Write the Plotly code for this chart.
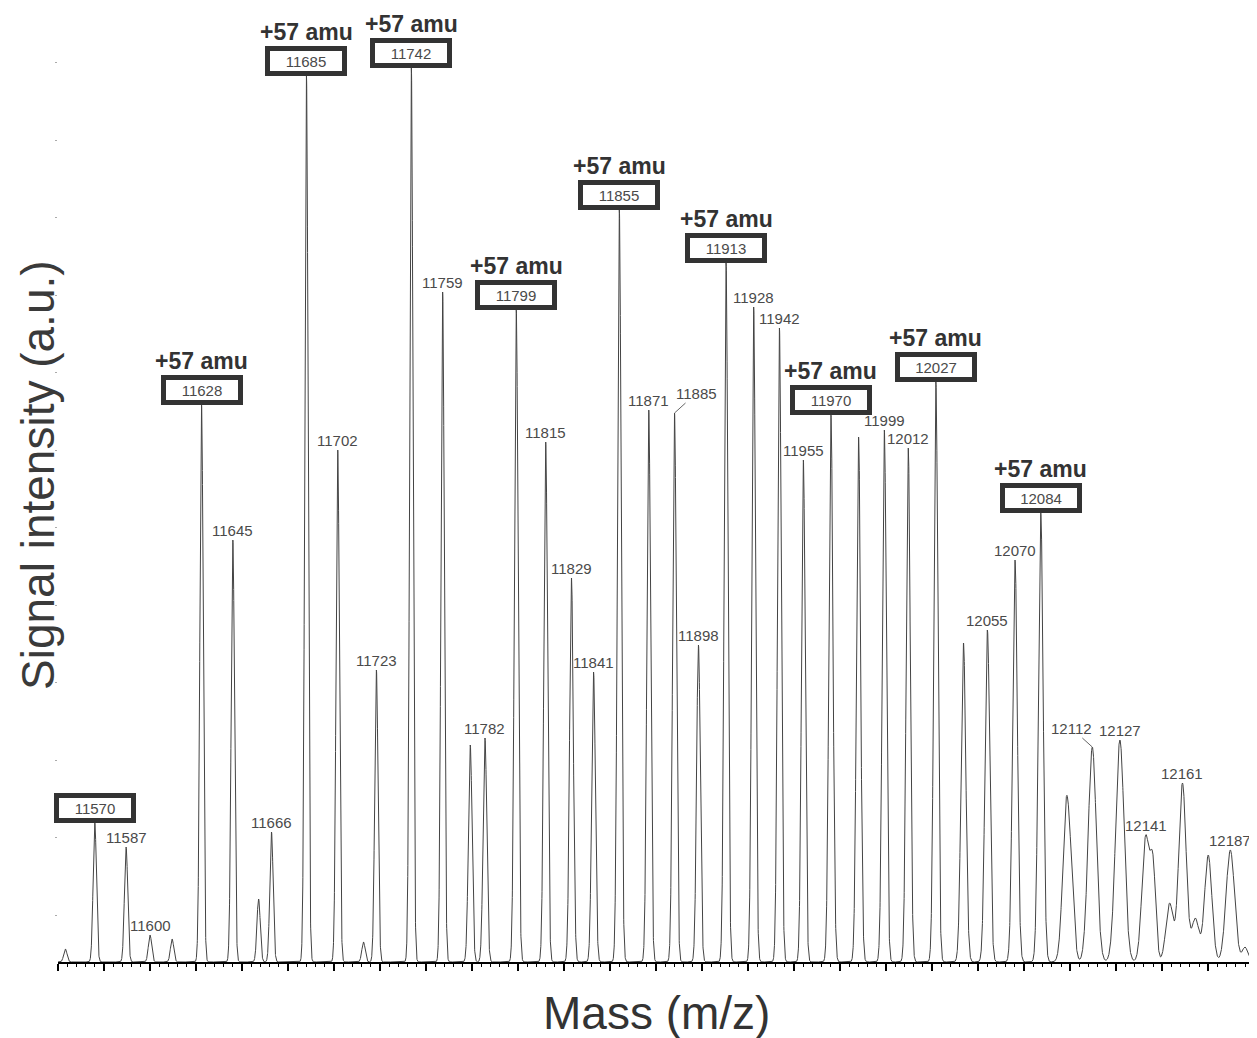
import numpy as np
import plotly.graph_objects as go

# ---------------- data ----------------
peak_mass = [11554, 11570, 11587, 11600, 11612, 11628, 11645, 11659, 11666, 11685,
             11702, 11716, 11723, 11742, 11759, 11774, 11782, 11799, 11815, 11829,
             11841, 11855, 11871, 11885, 11898, 11913, 11928, 11942, 11955, 11970,
             11985, 11999, 12012, 12027, 12042, 12055, 12070, 12084, 12098, 12101,
             12112, 12127, 12141, 12145, 12154, 12161, 12168, 12175, 12187, 12195]
peak_height = [13, 139, 115, 27, 23, 557, 422, 63, 130, 886,
               512, 20, 292, 894, 670, 217, 224, 652, 520, 384,
               290, 752, 552, 549, 317, 699, 655, 634, 502, 547,
               525, 532, 514, 580, 319, 332, 402, 449, 166, 89,
               215, 222, 127, 107, 59, 179, 44, 107, 112, 15]
peak_sigma = [0.9, 0.9, 0.9, 0.9, 0.9, 0.9, 0.9, 0.9, 0.9, 0.9,
              0.9, 0.9, 0.9, 0.9, 0.9, 1.0, 1.0, 1.0, 1.0, 1.0,
              1.0, 1.0, 1.0, 1.0, 1.0, 1.0, 1.0, 1.0, 1.0, 1.1,
              1.1, 1.1, 1.1, 1.1, 1.3, 1.3, 1.3, 1.3, 2.0, 1.5,
              2.2, 2.3, 2.0, 1.5, 2.0, 2.0, 2.0, 2.0, 2.3, 1.5]

boxed_labels = [11570, 11628, 11685, 11742, 11799, 11855, 11913, 11970, 12027, 12084]
plus57_labels = [11628, 11685, 11742, 11799, 11855, 11913, 11970, 12027, 12084]
plain_labels = [11587, 11600, 11645, 11666, 11702, 11723, 11759, 11782, 11815, 11829,
                11841, 11871, 11898, 11928, 11942, 11955, 11999, 12012, 12055, 12070,
                12127, 12141, 12161, 12187]
connector_labels = [11885, 12112]

x_title = "Mass (m/z)"
y_title = "Signal intensity (a.u.)"
plus57_text = "+57 amu"

# ---------------- build profile spectrum from the peak list ----------------
m = np.array(peak_mass, dtype=float)
h = np.array(peak_height, dtype=float)
s = np.array(peak_sigma, dtype=float)
G = np.exp(-((m[:, None] - m[None, :]) ** 2) / (2 * s[None, :] ** 2))
amp = np.clip(np.linalg.solve(G, h), 0, None)

xs = np.arange(11550, 12202, 0.05)
ys = (amp[None, :] * np.exp(-((xs[:, None] - m[None, :]) ** 2) / (2 * s[None, :] ** 2))).sum(axis=1)

height_of = dict(zip(peak_mass, peak_height))

fig = go.Figure()
fig.add_trace(go.Scatter(x=xs, y=ys, mode="lines",
                         line=dict(color="#444444", width=1),
                         hoverinfo="skip", showlegend=False))

FONT = "Liberation Sans, Arial, sans-serif"
LABEL_FONT = dict(family=FONT, size=15, color="#4a4a4a")
ann = []
for mass in boxed_labels:
    ann.append(dict(x=mass, y=height_of[mass], xref="x", yref="y", text=str(mass),
                    showarrow=False, xanchor="center", yanchor="bottom",
                    font=LABEL_FONT,
                    bgcolor="white", bordercolor="#333333", borderwidth=5,
                    borderpad=2, width=68, height=16))
for mass in plus57_labels:
    ann.append(dict(x=mass, y=height_of[mass], xref="x", yref="y", text="<b>%s</b>" % plus57_text,
                    showarrow=False, xanchor="center", yanchor="bottom", yshift=29,
                    font=dict(family=FONT, size=23, color="#333333")))
for mass in plain_labels:
    ann.append(dict(x=mass, y=height_of[mass], xref="x", yref="y", text=str(mass),
                    showarrow=False, xanchor="center", yanchor="middle", yshift=10,
                    font=LABEL_FONT))
for mass, (ax, ay) in zip(connector_labels, [(22, -20), (-21, -19)]):
    ann.append(dict(x=mass, y=height_of[mass], xref="x", yref="y", text=str(mass),
                    showarrow=True, arrowhead=0, arrowwidth=1, arrowcolor="#666666",
                    ax=ax, ay=ay, standoff=0,
                    font=LABEL_FONT))
ann.append(dict(x=0.499, y=-0.0535, xref="paper", yref="paper", text=x_title,
                showarrow=False, xanchor="center", yanchor="middle",
                font=dict(family=FONT, size=46, color="#333333")))
ann.append(dict(x=-0.0167, y=0.5105, xref="paper", yref="paper", text=y_title,
                showarrow=False, xanchor="center", yanchor="middle", textangle=-90,
                font=dict(family=FONT, size=46, color="#3a3a3a")))

fig.update_layout(
    width=1249, height=1030,
    margin=dict(l=50, r=0, t=0, b=76),
    paper_bgcolor="white", plot_bgcolor="white",
    showlegend=False,
    annotations=ann,
    xaxis=dict(range=[11550, 12201.5], showgrid=False, zeroline=False,
               showline=True, linecolor="black", linewidth=2,
               ticks="outside", tickcolor="black", ticklen=7, tickwidth=1.5,
               tick0=11550, dtick=25, showticklabels=False,
               minor=dict(ticks="outside", tick0=11550, dtick=5, ticklen=3,
                          tickcolor="black", tickwidth=1, showgrid=False)),
    yaxis=dict(range=[0, 954], showgrid=False, zeroline=False, showline=False,
               ticks="outside", ticklen=2, tickcolor="#aaaaaa", tickwidth=1,
               tick0=47, dtick=77.5, showticklabels=False),
)

fig.write_html("out.html")
